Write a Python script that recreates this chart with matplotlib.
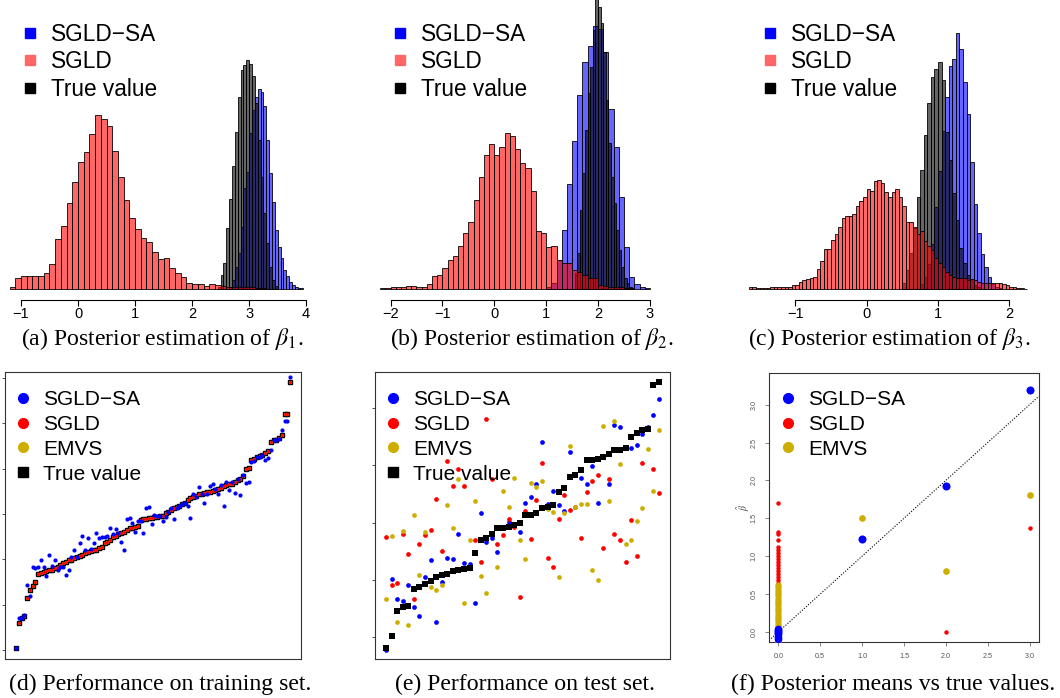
import numpy as np
import matplotlib
matplotlib.use('Agg')
import matplotlib.pyplot as plt
from matplotlib.lines import Line2D

plt.rcParams['font.family'] = ['Liberation Sans', 'DejaVu Sans']
plt.rcParams['mathtext.fontset'] = 'stix'

# ---------------- data ----------------
# Histogram bar heights (arbitrary density units), bin start and width
a_red_start, a_red_width = -1.2, 0.1
a_red = [7, 34, 38, 38, 38, 38, 49, 74, 149, 190, 259, 322, 380, 410, 464, 522, 510, 490,
         414, 337, 267, 212, 179, 154, 140, 112, 89, 92, 62, 49, 37, 17, 16, 14, 10, 14, 12,
         8, 7, 6, 5, 5, 5, 4, 3]
a_true_start, a_true_width = 2.45, 0.05
a_true = [7, 42, 77, 184, 269, 369, 472, 577, 657, 672, 686, 674, 639, 557, 447, 337, 227,
          137, 67, 27, 9]
a_sa_start, a_sa_width = 2.65, 0.05
a_sa = [7, 27, 67, 107, 187, 302, 352, 467, 537, 577, 599, 590, 549, 447, 347, 262, 177,
        127, 92, 57, 39, 22, 12, 7, 4, 2]

b_red_start, b_red_width = -2.2, 0.1
b_red = [2, 3, 5, 7, 7, 8, 8, 7, 7, 14, 38, 43, 64, 86, 99, 128, 167, 202, 266, 337, 403,
         436, 402, 427, 467, 459, 419, 377, 364, 294, 174, 169, 127, 130, 87, 77, 77, 57, 52,
         42, 32, 32, 12, 9, 5, 7, 5, 4, 2]
b_sa_start, b_sa_width = 1.0, 0.1
b_sa = [7, 17, 87, 177, 314, 444, 582, 680, 730, 790, 780, 712, 541, 427, 277, 127, 37, 15,
        7, 3]
b_true_start, b_true_width = 1.55, 0.05
b_true = [47, 107, 237, 347, 477, 587, 667, 777, 950, 847, 797, 712, 567, 437, 337, 257, 177,
          117, 67, 32, 17, 7]

c_red_start, c_red_width = -1.65, 0.05
c_red = [7, 5, 3, 3, 3, 3, 5, 5, 5, 5, 7, 7, 12, 12, 20, 27, 30, 33, 35, 60, 85, 120, 120,
         147, 165, 185, 212, 218, 220, 225, 250, 265, 275, 300, 295, 325, 327, 317, 290, 275,
         290, 300, 275, 250, 200, 200, 185, 165, 175, 145, 130, 117, 92, 77, 67, 52, 42, 37,
         32, 32, 32, 27, 29, 27, 22, 17, 17, 19, 17, 19, 19, 14, 12, 7, 5, 3, 3, 1]
c_true_start, c_true_width = 0.50, 0.05
c_true = [17, 57, 107, 182, 277, 357, 462, 559, 635, 660, 682, 627, 472, 387, 287, 207, 122,
          77, 42, 27, 12, 5]
c_sa_start, c_sa_width = 0.75, 0.05
c_sa = [15, 35, 75, 135, 245, 355, 475, 575, 670, 690, 768, 720, 620, 525, 380, 255, 167,
        105, 65, 35, 15, 7, 3]

# (d) training set, sorted by true value
train_true = [-2.96, -2.41, -2.30, -2.25, -1.86, -1.68, -1.59, -1.50, -1.33, -1.31,
              -1.28, -1.25, -1.24, -1.23, -1.20, -1.18, -1.13, -1.09, -1.06, -1.02,
              -1.01, -0.98, -0.96, -0.93, -0.91, -0.86, -0.84, -0.81, -0.80, -0.79,
              -0.76, -0.74, -0.65, -0.62, -0.58, -0.51, -0.48, -0.45, -0.43, -0.40,
              -0.36, -0.32, -0.30, -0.29, -0.27, -0.14, -0.12, -0.11, -0.10, -0.09,
              -0.07, -0.06, -0.05, -0.05, 0.01, 0.04, 0.08, 0.12, 0.15, 0.18,
              0.21, 0.24, 0.30, 0.34, 0.37, 0.40, 0.43, 0.45, 0.46, 0.48,
              0.49, 0.51, 0.52, 0.55, 0.58, 0.61, 0.63, 0.65, 0.67, 0.71,
              0.74, 0.76, 0.83, 1.00, 1.02, 1.18, 1.22, 1.25, 1.27, 1.30,
              1.34, 1.39, 1.58, 1.62, 1.64, 1.68, 1.73, 2.21, 2.21, 2.91]
train_sa = [-2.96, -2.30, -2.30, -2.23, -1.56, -1.80, -1.18, -1.20, -1.18, -1.02,
            -1.17, -1.36, -0.91, -1.14, -1.02, -1.23, -1.17, -1.17, -1.34, -1.23,
            -0.96, -0.80, -0.95, -0.64, -0.48, -0.79, -0.53, -0.78, -0.65, -0.41,
            -0.54, -0.51, -0.51, -0.49, -0.32, -0.45, -0.34, -0.41, -0.62, -0.79,
            -0.12, -0.10, -0.19, -0.40, -0.16, -0.16, -0.43, 0.12, 0.15, -0.23,
            -0.03, -0.05, -0.04, -0.15, -0.07, 0.04, 0.13, -0.11, 0.12, 0.18,
            0.21, 0.24, 0.18, -0.08, 0.45, 0.37, 0.59, 0.45, 0.25, 0.43,
            0.61, 0.65, 0.54, 0.45, 0.64, 0.17, 0.71, 0.52, 0.71, 0.46,
            0.76, 0.42, 0.85, 0.69, 0.70, 1.14, 1.17, 1.25, 1.25, 1.29,
            1.18, 1.24, 1.42, 1.64, 1.62, 1.65, 1.86, 2.04, 2.04, 3.03]
# SGLD and EMVS sit on top of the true values in the training panel
train_sgld = list(train_true)
train_emvs = list(train_true)

# (e) test set
test_true = [-2.18, -1.97, -1.55, -1.48, -1.45, -1.16, -1.13, -1.07, -1.02, -0.94,
             -0.92, -0.89, -0.85, -0.82, -0.81, -0.80, -0.53, -0.31, -0.26, -0.19,
             -0.10, -0.10, -0.08, -0.04, -0.01, 0.13, 0.13, 0.17, 0.26, 0.28,
             0.31, 0.54, 0.60, 0.80, 0.84, 0.92, 1.09, 1.10, 1.12, 1.15,
             1.19, 1.26, 1.26, 1.30, 1.49, 1.56, 1.62, 1.64, 2.41, 2.45]
test_sa = [-2.22, -0.99, -1.34, -1.37, -1.08, -1.48, -1.63, -0.95, -0.65, -1.73,
           -1.03, -0.61, -0.63, -0.19, -0.70, -0.72, -1.41, 0.16, -0.34, -0.26,
           -0.51, -0.10, 0.01, -0.04, -0.17, 0.35, 0.44, 0.68, 1.40, 0.33,
           0.56, 0.31, 0.21, 1.24, 0.85, 0.78, 0.68, 0.99, 0.35, 1.15,
           0.68, 1.70, 1.67, 1.30, 1.30, 1.36, 1.55, 1.67, 1.88, 2.16]
test_sgld = [-0.25, -1.08, -1.06, -0.19, -0.54, -1.34, -0.38, -0.21, -0.12, 0.41,
             -0.49, 1.08, 0.64, 0.93, 0.64, -0.80, -0.30, -0.68, 1.81, 0.77,
             -0.38, -0.21, 0.06, -0.08, -1.29, 0.20, -0.28, 0.39, 1.05, -0.61,
             -0.77, 0.06, 0.48, 0.22, 0.27, -0.26, 0.53, 0.73, 0.84, -0.44,
             0.77, -0.19, -0.30, -0.68, 0.05, -0.58, 1.05, 1.65, 0.94, 0.52]
test_emvs = [-1.34, -0.23, -1.73, -0.14, -1.78, 0.14, -0.92, -0.16, -1.13, -1.17,
             -1.09, 0.31, -0.09, 0.76, -1.41, -0.30, 0.37, -0.93, -1.22, -0.19,
             -0.78, 0.56, 0.27, 0.78, -0.31, -0.63, 0.70, 0.62, 0.72, 0.23,
             0.19, -0.95, 0.17, 1.33, 0.28, 0.33, 0.33, -0.82, -1.00, 1.69,
             0.37, 1.78, 1.03, -0.38, -0.31, 0.03, 0.26, 1.29, 0.56, 1.62]

# (f) posterior means vs true values
f_true_nz = [1.0, 2.0, 3.0]
f_sa_nz = [1.23, 1.93, 3.19]
f_sgld_nz = [None, 0.0, 1.37]
f_emvs_nz = [1.50, 0.80, 1.81]
f_sa_zero = [-0.09, -0.06, -0.03, -0.01, 0.0, 0.01, 0.02, 0.04]
f_sgld_zero = [-0.08, -0.05, -0.02, 0.0, 0.02, 0.05, 0.08, 0.11, 0.14, 0.17, 0.20, 0.24,
               0.28, 0.32, 0.36, 0.40, 0.44, 0.48, 0.52, 0.56, 0.60, 0.64, 0.68, 0.72,
               0.76, 0.80, 0.84, 0.88, 0.92, 0.96, 1.00, 1.04, 1.08, 1.12, 1.21, 1.29,
               1.32, 1.70]
f_emvs_zero = [-0.13, -0.10, -0.07, -0.04, -0.02, 0.0, 0.02, 0.05, 0.08, 0.11, 0.14, 0.17,
               0.20, 0.23, 0.26, 0.29, 0.32, 0.35, 0.38, 0.41, 0.44, 0.47, 0.50, 0.53,
               0.56, 0.59, 0.62]

hist_ticks_a = [-1, 0, 1, 2, 3, 4]
hist_ticks_b = [-2, -1, 0, 1, 2, 3]
hist_ticks_c = [-1, 0, 1, 2]
f_ticks = [0.0, 0.5, 1.0, 1.5, 2.0, 2.5, 3.0]

captions = [r'(a) Posterior estimation of $\beta_1$.',
            r'(b) Posterior estimation of $\beta_2$.',
            r'(c) Posterior estimation of $\beta_3$.',
            '(d) Performance on training set.',
            '(e) Performance on test set.',
            '(f) Posterior means vs true values.']

# ---------------- styles ----------------
BLUE_A = (0, 0, 1, 0.6)
BLACK_A = (0, 0, 0, 0.6)
RED_A = (1, 0, 0, 0.6)
GOLD = '#CDAD00'

W, H = 1060, 698
fig = plt.figure(figsize=(W / 100, H / 100), dpi=100)


def px_axes(l, t, r, b):
    return fig.add_axes([l / W, 1 - b / H, (r - l) / W, (b - t) / H])


def place_legend(ax, handles, labels, x_px, y_px, fs, htp, ls):
    ax.legend(handles, labels, loc='upper left', bbox_to_anchor=(x_px / W, 1 - y_px / H),
              bbox_transform=fig.transFigure, frameon=False, fontsize=fs,
              handlelength=0.8, handletextpad=htp, labelspacing=ls, borderpad=0,
              borderaxespad=0)


def hist_panel(box, xlim, ticks, series, leg_xy):
    ax = px_axes(*box)
    for start, width, heights, color in series:
        edges = start + width * np.arange(len(heights))
        ax.bar(edges, heights, width=width, align='edge', color=color,
               edgecolor=(0, 0, 0, 0.85), linewidth=0.7)
    ax.set_xlim(xlim)
    ax.set_ylim(-33, 867)
    for s in ['top', 'right', 'left']:
        ax.spines[s].set_visible(False)
    ax.spines['bottom'].set_bounds(ticks[0], ticks[-1])
    ax.spines['bottom'].set_linewidth(0.8)
    ax.set_xticks(ticks)
    ax.set_yticks([])
    ax.tick_params(axis='x', length=4, width=0.8, labelsize=10.5, pad=1.0)
    handles = [Line2D([], [], marker='s', ls='', color=c, ms=7.8)
               for c in ['#0000FF', '#FF6666', 'black']]
    place_legend(ax, handles, ['SGLD\u2212SA', 'SGLD', 'True value'], *leg_xy,
                 fs=16.3, htp=0.55, ls=0.19)
    return ax


hist_panel((5, 0, 325, 300), (-1.28, 4.33), hist_ticks_a,
           [(a_sa_start, a_sa_width, a_sa, BLUE_A),
            (a_true_start, a_true_width, a_true, BLACK_A),
            (a_red_start, a_red_width, a_red, RED_A)], (20.5, 23))
hist_panel((375, 0, 695, 300), (-2.30, 3.87), hist_ticks_b,
           [(b_sa_start, b_sa_width, b_sa, BLUE_A),
            (b_true_start, b_true_width, b_true, BLACK_A),
            (b_red_start, b_red_width, b_red, RED_A)], (390.5, 23))
hist_panel((745, 0, 1030, 300), (-1.705, 2.29), hist_ticks_c,
           [(c_sa_start, c_sa_width, c_sa, BLUE_A),
            (c_true_start, c_true_width, c_true, BLACK_A),
            (c_red_start, c_red_width, c_red, RED_A)], (760.5, 23))


def frame(ax):
    for s in ax.spines.values():
        s.set_linewidth(0.8)
        s.set_color('#333333')


def scatter_legend(ax, x_px, y_px, with_true=True):
    hs = [Line2D([], [], marker='o', ls='', color='#0000FF', ms=7),
          Line2D([], [], marker='o', ls='', color='#FF0000', ms=7),
          Line2D([], [], marker='o', ls='', color=GOLD, ms=7)]
    labs = ['SGLD\u2212SA', 'SGLD', 'EMVS']
    if with_true:
        hs.append(Line2D([], [], marker='s', ls='', color='black', ms=6.5))
        labs.append('True value')
    place_legend(ax, hs, labs, x_px, y_px, fs=15, htp=0.56, ls=0.28)


# (d)
axd = px_axes(5, 372, 301, 659)
xd = np.arange(1, len(train_true) + 1)
axd.plot(xd, train_true, 's', color='black', ms=3.2, zorder=2)
axd.plot(xd, train_emvs, 'o', color=GOLD, ms=2.4, mew=0, zorder=3)
axd.plot(xd, train_sgld, 'o', color='#FF0000', ms=2.2, mew=0, zorder=4)
axd.plot(xd, train_sa, 'o', color='#0000FF', ms=3.0, mew=0, zorder=5)
axd.set_xlim(-2.96, 103.9)
axd.set_ylim(-3.20, 3.13)
axd.set_xticks([])
axd.set_yticks([-3, -2, -1, 0, 1, 2, 3])
axd.set_yticklabels([])
axd.tick_params(axis='y', length=2, width=0.6, color='#333333')
frame(axd)
scatter_legend(axd, 14.7, 390)

# (e)
axe = px_axes(375, 372, 670, 659)
xe = np.arange(1, len(test_true) + 1)
axe.plot(xe, test_sa, 'o', color='#0000FF', ms=3.4, mew=0, zorder=2)
axe.plot(xe, test_sgld, 'o', color='#FF0000', ms=3.4, mew=0, zorder=3)
axe.plot(xe, test_emvs, 'o', color=GOLD, ms=3.4, mew=0, zorder=4)
axe.plot(xe, test_true, 's', color='black', ms=3.8, mew=0, zorder=5)
axe.set_xlim(-0.96, 51.96)
axe.set_ylim(-2.38, 2.63)
axe.set_xticks([])
axe.set_yticks([-2, -1, 0, 1, 2])
axe.set_yticklabels([])
axe.tick_params(axis='y', length=2.5, width=0.6, color='#333333')
frame(axe)
scatter_legend(axe, 384.7, 390)

# (f)
axf = px_axes(769, 373, 1039, 642)
axf.axline((0, 0), slope=1, ls=(0, (1, 1.5)), color='black', lw=0.8, zorder=1)
axf.plot(np.zeros(len(f_sgld_zero)), f_sgld_zero, 'o', color='#FF0000', ms=3.2, mew=0, zorder=2)
axf.plot(np.zeros(len(f_emvs_zero)), f_emvs_zero, 'o', color=GOLD, ms=4.5, mew=0, zorder=3)
axf.plot(np.zeros(len(f_sa_zero)), f_sa_zero, 'o', color='#0000FF', ms=5.5, mew=0, zorder=4)
for xt, v in zip(f_true_nz, f_sgld_nz):
    if v is not None:
        axf.plot(xt, v, 'o', color='#FF0000', ms=3.2, mew=0, zorder=2)
axf.plot(f_true_nz, f_emvs_nz, 'o', color=GOLD, ms=4.8, mew=0, zorder=3)
axf.plot(f_true_nz, f_sa_nz, 'o', color='#0000FF', ms=5.8, mew=0, zorder=4)
axf.set_xlim(-0.111, 3.112)
axf.set_ylim(-0.132, 3.417)
axf.set_xticks(f_ticks)
axf.set_yticks(f_ticks)
axf.set_xticklabels([f'{t:.1f}' for t in f_ticks])
axf.set_yticklabels([f'{t:.1f}' for t in f_ticks])
axf.tick_params(length=3, width=0.5, labelsize=5.2, labelcolor='#555555', color='#555555', pad=5)
for lab in axf.get_yticklabels():
    lab.set_rotation(90)
    lab.set_va('center')
axf.set_ylabel(r'$\hat{\beta}$', fontsize=7, color='#444444')
axf.yaxis.set_label_coords(-0.062, 0.5)
frame(axf)
scatter_legend(axf, 779.7, 390, with_true=False)

# captions (x centre, baseline y in pixels)
cap_pos = [(162, 345), (532, 345), (889, 345), (160, 690), (525, 690), (893, 690)]
for (cx, cy), txt in zip(cap_pos, captions):
    fig.text(cx / W, 1 - cy / H, txt, ha='center', va='baseline', fontsize=17.1,
             family='Liberation Serif')

fig.savefig('out.png', dpi=100)
